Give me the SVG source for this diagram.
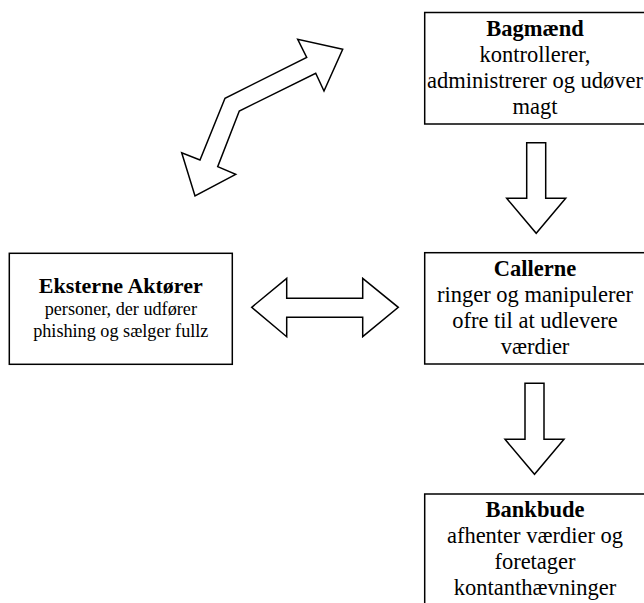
<svg xmlns="http://www.w3.org/2000/svg" width="644" height="603" viewBox="0 0 644 603">
<style>
.box{fill:#fff;stroke:#000;stroke-width:1.5}
.arr{fill:#fff;stroke:#000;stroke-width:1.5;stroke-linejoin:miter}
text{font-family:"Liberation Serif","Times New Roman",serif;fill:#000;text-anchor:middle}
.t{font-size:22.5px;font-weight:bold}
.b{font-size:22.5px}
.t2{font-size:22px;font-weight:bold}
.b2{font-size:18.2px}
</style>
<rect width="644" height="603" fill="#fff"/>
<g id="connectors">
<polygon class="arr" points="342.7,49.3 297.7,39.3 306.7,57.3 225,98.3 200,160 181.7,152.7 195,196 235.7,174.3 217.7,166.7 239.3,111 315.7,73.3 324,91"/>
<polygon class="arr" points="251.7,307.3 286.7,278.3 286.7,298.3 362.7,298.3 362.7,278.3 398.3,307.3 362.7,336.7 362.7,317.3 286.7,317.3 286.7,336.7"/>
<polygon class="arr" points="526.7,142.7 545.7,142.7 545.7,198.3 565.7,198.3 536.2,233.3 506.7,198.3 526.7,198.3"/>
<polygon class="arr" points="525,383.3 544,383.3 544,439.3 564,439.3 534.5,474.3 505,439.3 525,439.3"/>
</g>
<g id="bagmaend">
<rect class="box" x="424.7" y="12.5" width="225" height="111.5"/>
<text class="t" x="535" y="35.5">Bagmænd</text>
<text class="b" x="535" y="61.5">kontrollerer,</text>
<text class="b" x="535" y="87.5">administrerer og udøver</text>
<text class="b" x="535" y="113.5">magt</text>
</g>
<g id="eksterne">
<rect class="box" x="9.3" y="253.3" width="223" height="111"/>
<text class="t2" x="120.8" y="293.3">Eksterne Aktører</text>
<text class="b2" x="120.8" y="315">personer, der udfører</text>
<text class="b2" x="120.8" y="337.3">phishing og sælger fullz</text>
</g>
<g id="callerne">
<rect class="box" x="424.7" y="252.7" width="225" height="111.3"/>
<text class="t" x="535" y="276">Callerne</text>
<text class="b" x="535" y="302">ringer og manipulerer</text>
<text class="b" x="535" y="328">ofre til at udlevere</text>
<text class="b" x="535" y="354">værdier</text>
</g>
<g id="bankbude">
<rect class="box" x="424.7" y="494" width="225" height="120"/>
<text class="t" x="535" y="517">Bankbude</text>
<text class="b" x="535" y="543">afhenter værdier og</text>
<text class="b" x="535" y="569">foretager</text>
<text class="b" x="535" y="595">kontanthævninger</text>
</g>
</svg>
